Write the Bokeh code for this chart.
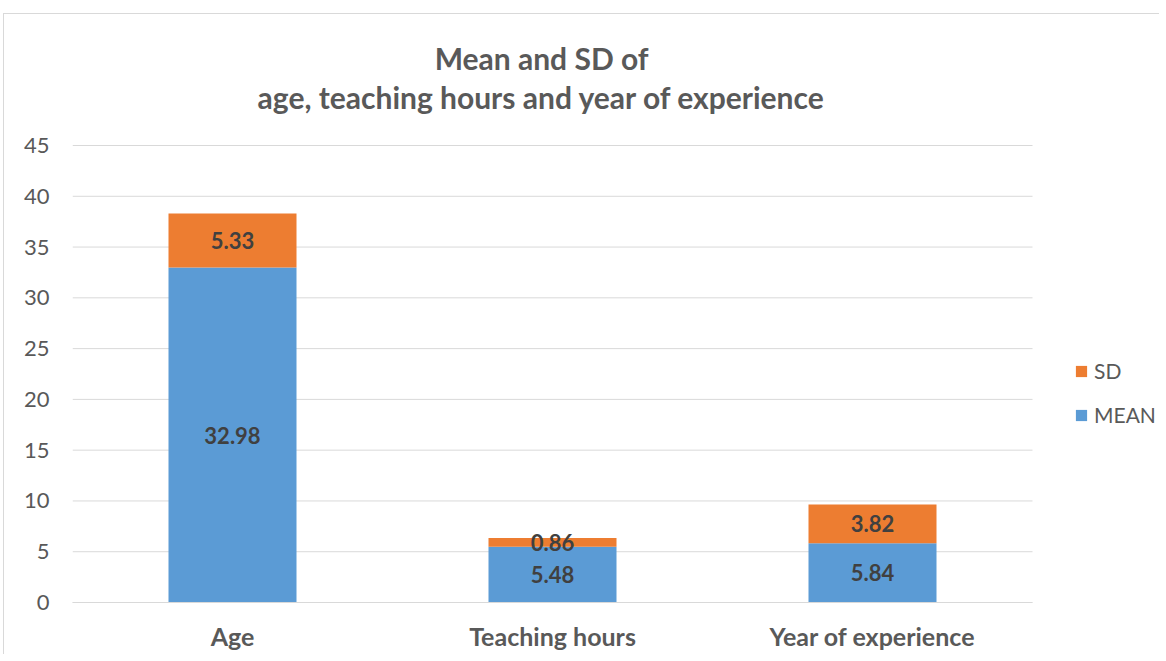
from bokeh.plotting import figure
from bokeh.models import (ColumnDataSource, Legend, LegendItem, LabelSet, Label,
                          FixedTicker, Range1d)
from bokeh.core.properties import value
from bokeh.embed import file_html
from bokeh.resources import INLINE

categories = ["Age", "Teaching hours", "Year of experience"]
mean_values = [32.98, 5.48, 5.84]
sd_values = [5.33, 0.86, 3.82]
y_ticks = [0, 5, 10, 15, 20, 25, 30, 35, 40, 45]
title_line1 = "Mean and SD of"
title_line2 = "age, teaching hours and year of experience"

BLUE = "#5B9BD5"
ORANGE = "#ED7D31"
GREY_TEXT = "#595959"
GRID = "#d9d9d9"
FONT = "Lato"

n = len(categories)
xpos = [i + 0.5 for i in range(n)]

source = ColumnDataSource(dict(
    x=xpos,
    MEAN=mean_values,
    SD=sd_values,
    mean_mid=[m / 2 for m in mean_values],
    sd_mid=[m + s / 2 for m, s in zip(mean_values, sd_values)],
    mean_txt=[f"{m:.2f}" for m in mean_values],
    sd_txt=[f"{s:.2f}" for s in sd_values],
))
grid_src = ColumnDataSource(dict(y=y_ticks, x0=[0] * len(y_ticks), x1=[n] * len(y_ticks)))

# frame spans from the y labels to the right edge and from the x labels to the top;
# title and legend are drawn inside it
p = figure(
    x_range=Range1d(0, 3.4), y_range=Range1d(0, 57.90),
    width=1156, height=641,
    output_backend="svg", toolbar_location=None,
    min_border_left=68, min_border_right=0,
    min_border_top=0, min_border_bottom=53,
)
p.styles = {"margin-left": "3px", "margin-top": "13px",
            "border-left": "1px solid #d9d9d9", "border-top": "1px solid #d9d9d9"}
p.title = None
p.outline_line_color = None
p.background_fill_color = "white"
p.border_fill_color = "white"
p.xgrid.grid_line_color = None
p.ygrid.grid_line_color = None

# horizontal gridlines over the category area only
p.segment(x0="x0", x1="x1", y0="y", y1="y", source=grid_src,
          line_color=GRID, line_width=1)

renderers = p.vbar_stack(["MEAN", "SD"], x="x", width=0.4, source=source,
                         color=[BLUE, ORANGE], line_color=None)

# data labels
for ycol, tcol in (("mean_mid", "mean_txt"), ("sd_mid", "sd_txt")):
    p.add_layout(LabelSet(x="x", y=ycol, text=tcol, source=source,
                          text_align="center", text_baseline="middle",
                          text_font=value(FONT), text_font_style="bold",
                          text_font_size="22px", text_color="#404040"))

# axes
p.yaxis.ticker = FixedTicker(ticks=y_ticks)
p.yaxis.axis_line_color = None
p.yaxis.major_tick_line_color = None
p.yaxis.minor_tick_line_color = None
p.yaxis.major_tick_out = 0
p.yaxis.major_tick_in = 0
p.yaxis.major_label_standoff = 23
p.yaxis.major_label_text_font = FONT
p.yaxis.major_label_text_font_size = "22px"
p.yaxis.major_label_text_color = GREY_TEXT

p.xaxis.ticker = FixedTicker(ticks=xpos)
p.xaxis.major_label_overrides = {x: c for x, c in zip(xpos, categories)}
p.xaxis.bounds = (0, n)
p.xaxis.axis_line_color = GRID
p.xaxis.axis_line_width = 1
p.xaxis.major_tick_line_color = None
p.xaxis.minor_tick_line_color = None
p.xaxis.major_tick_out = 0
p.xaxis.major_tick_in = 0
p.xaxis.major_label_standoff = 18
p.xaxis.major_label_text_font = FONT
p.xaxis.major_label_text_font_style = "bold"
p.xaxis.major_label_text_font_size = "25px"
p.xaxis.major_label_text_color = GREY_TEXT

# title, two centred lines
for line, y in ((title_line1, 53.66), (title_line2, 49.73)):
    p.add_layout(Label(x=1.466, y=y, text=line, text_align="center",
                       text_baseline="middle", text_font=FONT,
                       text_font_style="bold", text_font_size="30px",
                       text_color=GREY_TEXT))

legend = Legend(items=[LegendItem(label="SD", renderers=[renderers[1]]),
                       LegendItem(label="MEAN", renderers=[renderers[0]])],
                location=(1002, 175), orientation="vertical",
                glyph_width=14, glyph_height=14, spacing=19, padding=0, margin=0,
                label_standoff=6, label_text_font=FONT, label_text_font_size="21px",
                label_text_color=GREY_TEXT, border_line_color=None,
                background_fill_alpha=0)
p.add_layout(legend)

open("out.html", "w").write(file_html(p, INLINE))
